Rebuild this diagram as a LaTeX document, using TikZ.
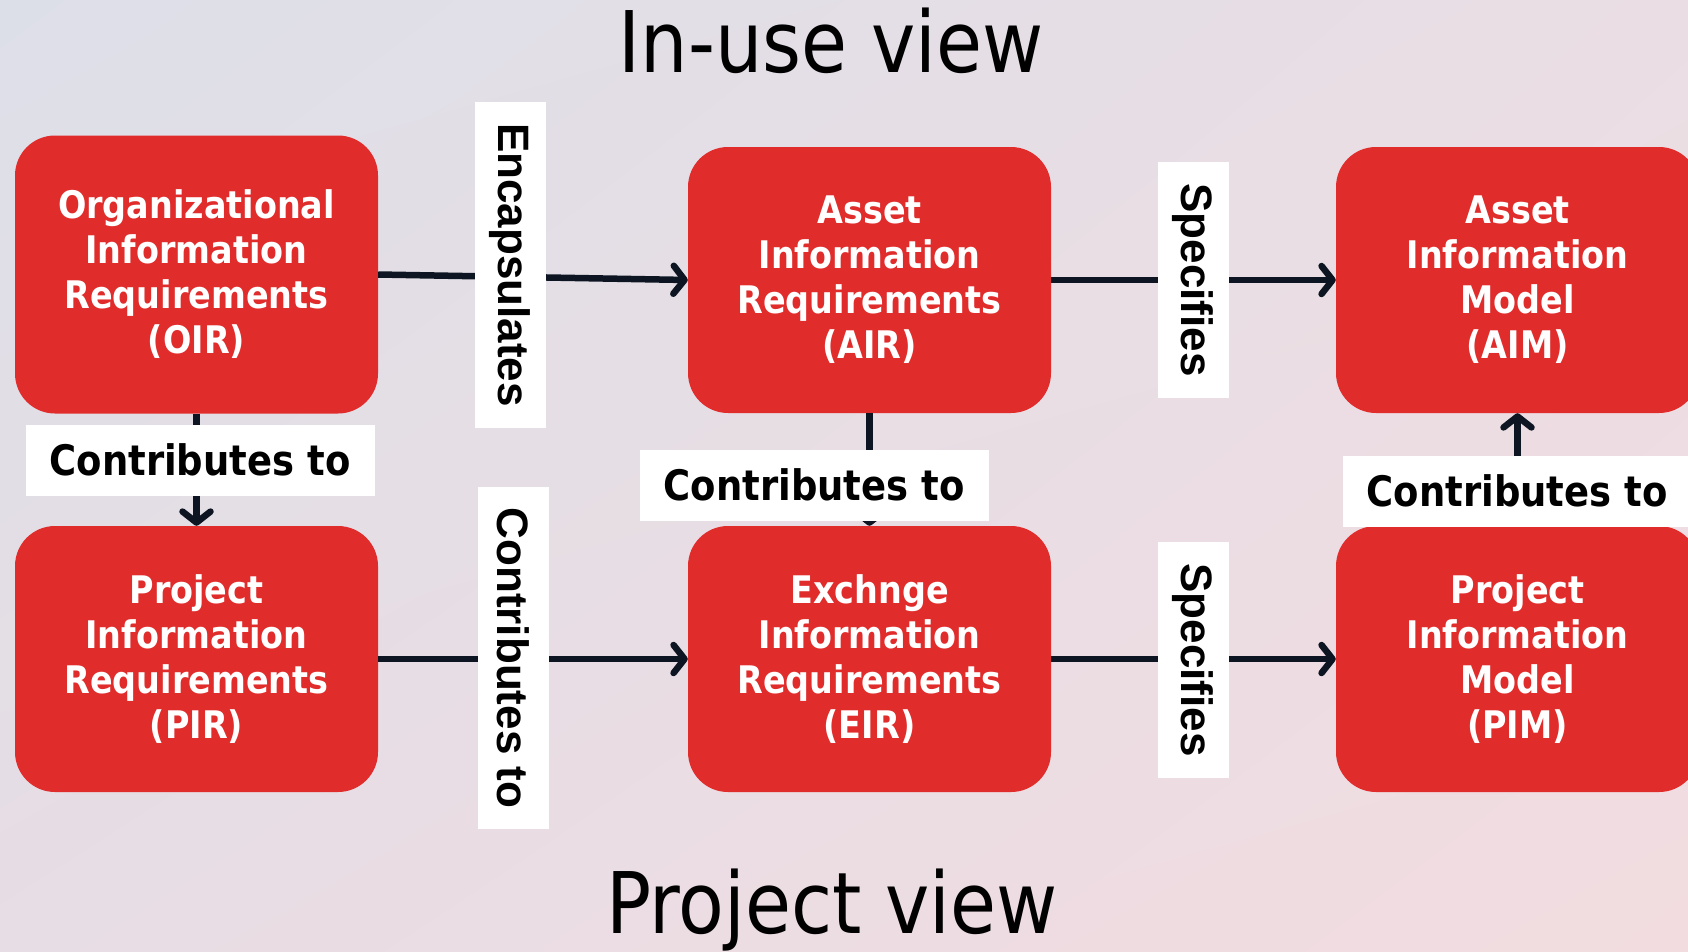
\documentclass[tikz,border=0pt]{standalone}
\usepackage{fontspec}
\setmainfont{DejaVu Sans}[FakeStretch=0.88]
\newfontfamily\lblfont{Liberation Sans}
\usetikzlibrary{arrows.meta,shadings}
\definecolor{boxred}{RGB}{225,44,44}
\definecolor{arrowink}{RGB}{12,21,33}
\definecolor{bgtl}{RGB}{221,223,232}
\definecolor{bgtr}{RGB}{234,222,228}
\definecolor{bgbl}{RGB}{231,221,228}
\definecolor{bgbr}{RGB}{242,220,224}
\begin{document}
\begin{tikzpicture}[x=1pt,y=-1pt,>={Straight Barb[length=11pt,width=28pt,line cap=round,line join=round]},
  req/.style={fill=boxred,rounded corners=40pt,minimum width=363pt,minimum height=266pt,
    align=center,text=white,font=\fontsize{38}{45}\selectfont\bfseries},
  hlbl/.style={fill=white,minimum width=349pt,minimum height=71pt,inner sep=0pt,
    font=\fontsize{42}{50}\selectfont\bfseries},
  vlbl/.style={fill=white,rotate=-90,minimum height=71pt,inner ysep=0pt,inner xsep=21pt,
    font=\lblfont\fontsize{44}{50}\selectfont\bfseries},
  link/.style={draw=arrowink,line width=6.5pt}]
  \clip (0,0) rectangle (1688,951);
  \shade[upper left=bgtl,upper right=bgtr,lower left=bgbl,lower right=bgbr] (0,0) rectangle (1688,951);

  \node[font=\fontsize{85}{90}\selectfont,anchor=base] (inuse) at (831,72) {In-use view};
  \node[font=\fontsize{85}{90}\selectfont,anchor=base] (projview) at (832,933) {Project view};

  \node[req,minimum height=278pt] (OIR) at (196.5,274.5) {Organizational\\Information\\Requirements\\(OIR)};
  \node[req] (AIR) at (869.5,280) {Asset\\Information\\Requirements\\(AIR)};
  \node[req] (AIM) at (1517.5,280) {Asset\\Information\\Model\\(AIM)};
  \node[req] (PIR) at (196.5,659) {Project\\Information\\Requirements\\(PIR)};
  \node[req] (EIR) at (869.5,659) {Exchnge\\Information\\Requirements\\(EIR)};
  \node[req] (PIM) at (1517.5,659) {Project\\Information\\Model\\(PIM)};

  \draw[link,->] (OIR.east) -- (AIR.west);
  \draw[link,->] (AIR) -- (AIM);
  \draw[link,->] (PIR) -- (EIR);
  \draw[link,->] (EIR) -- (PIM);
  \draw[link,->] (OIR) -- (PIR);
  \draw[link,->] (AIR) -- (EIR);
  \draw[link,->] (PIM) -- (AIM);

  \node[vlbl] (encaps) at (510,265) {Encapsulates};
  \node[vlbl] (contrib) at (513,658) {Contributes to};
  \node[vlbl] (specAIM) at (1193,280) {Specifies};
  \node[vlbl] (specPIM) at (1193,660) {Specifies};
  \node[hlbl] (contribOIR) at (200,460) {Contributes to};
  \node[hlbl] (contribAIR) at (814,485) {Contributes to};
  \node[hlbl] (contribPIM) at (1517,491) {Contributes to};
\end{tikzpicture}
\end{document}
